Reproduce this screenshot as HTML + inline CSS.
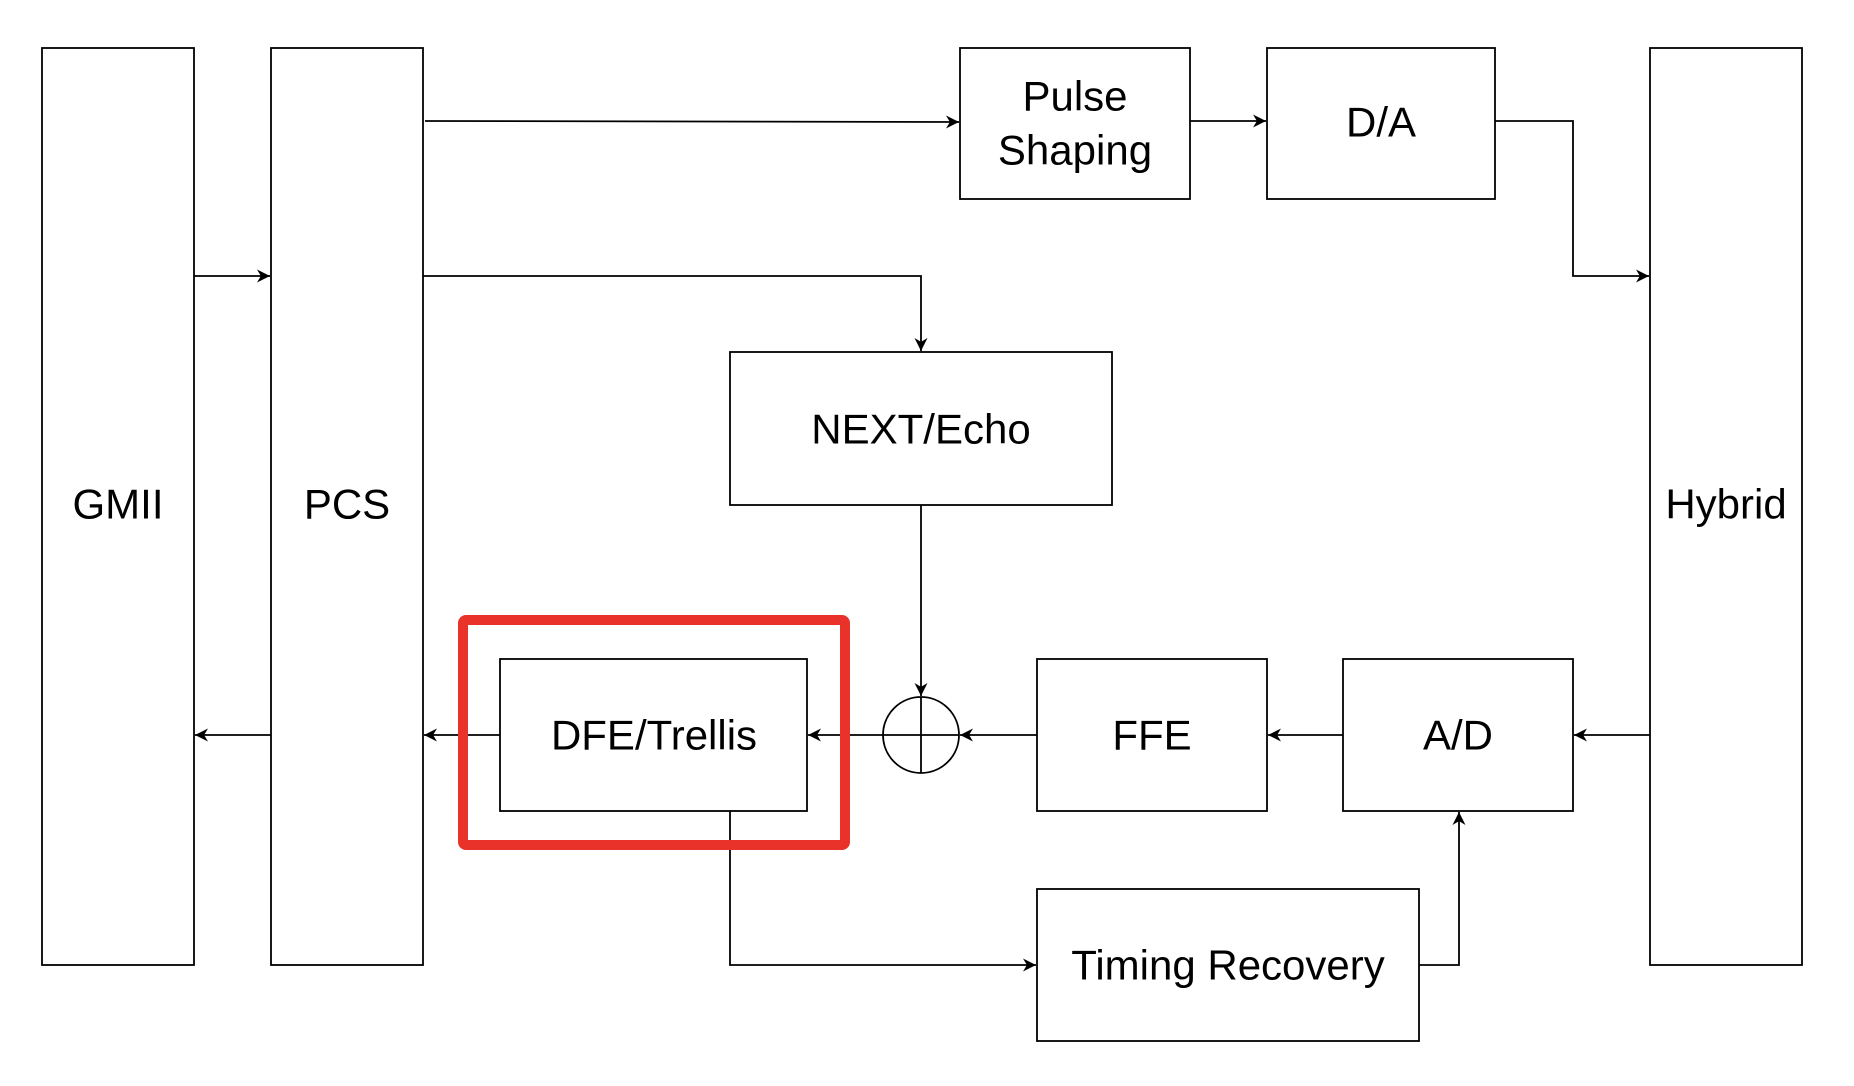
<!DOCTYPE html>
<html><head><style>body{margin:0;background:#fff}svg{display:block}</style></head><body>
<svg width="1854" height="1086" xmlns="http://www.w3.org/2000/svg" font-family="Liberation Sans, Arial, sans-serif" font-size="42">
<defs><marker id="a" viewBox="0 0 10 10" refX="10" refY="5" markerWidth="13" markerHeight="13" orient="auto" markerUnits="userSpaceOnUse"><path d="M0,0 L10,5 L0,10 L3,5 z" fill="#000"/></marker></defs>
<g fill="none" stroke="#000" stroke-width="1.8">
<rect x="42" y="48" width="152" height="917"/>
<rect x="271" y="48" width="152" height="917"/>
<rect x="960" y="48" width="230" height="151"/>
<rect x="1267" y="48" width="228" height="151"/>
<rect x="1650" y="48" width="152" height="917"/>
<rect x="730" y="352" width="382" height="153"/>
<rect x="500" y="659" width="307" height="152"/>
<rect x="1037" y="659" width="230" height="152"/>
<rect x="1343" y="659" width="230" height="152"/>
<rect x="1037" y="889" width="382" height="152"/>
<circle cx="921" cy="735" r="38"/>
<line x1="883" y1="735" x2="959" y2="735"/><line x1="921" y1="697" x2="921" y2="773"/>
<path d="M425 121 L959 122" marker-end="url(#a)"/>
<path d="M1190 121 L1266 121" marker-end="url(#a)"/>
<path d="M1495 121 L1573 121 L1573 276 L1649 276" marker-end="url(#a)"/>
<path d="M194 276 L270 276" marker-end="url(#a)"/>
<path d="M423 276 L921 276 L921 351" marker-end="url(#a)"/>
<path d="M921 505 L921 696" marker-end="url(#a)"/>
<path d="M1650 735 L1574 735" marker-end="url(#a)"/>
<path d="M1343 735 L1268 735" marker-end="url(#a)"/>
<path d="M1037 735 L960 735" marker-end="url(#a)"/>
<path d="M883 735 L808 735" marker-end="url(#a)"/>
<path d="M500 735 L424 735" marker-end="url(#a)"/>
<path d="M271 735 L195 735" marker-end="url(#a)"/>
<path d="M730 811 L730 965 L1036 965" marker-end="url(#a)"/>
<path d="M1419 965 L1459 965 L1459 812" marker-end="url(#a)"/>
</g>
<rect x="463" y="620" width="382" height="225" fill="none" stroke="#e8322a" stroke-width="10" rx="3"/>
<g fill="#000" text-anchor="middle" dominant-baseline="central">
<text x="118" y="504">GMII</text>
<text x="347" y="504">PCS</text>
<text x="1075" y="96">Pulse</text>
<text x="1075" y="150">Shaping</text>
<text x="1381" y="122">D/A</text>
<text x="1726" y="504">Hybrid</text>
<text x="921" y="429">NEXT/Echo</text>
<text x="654" y="735">DFE/Trellis</text>
<text x="1152" y="735">FFE</text>
<text x="1458" y="735">A/D</text>
<text x="1228" y="965">Timing Recovery</text>
</g>
</svg>
</body></html>
